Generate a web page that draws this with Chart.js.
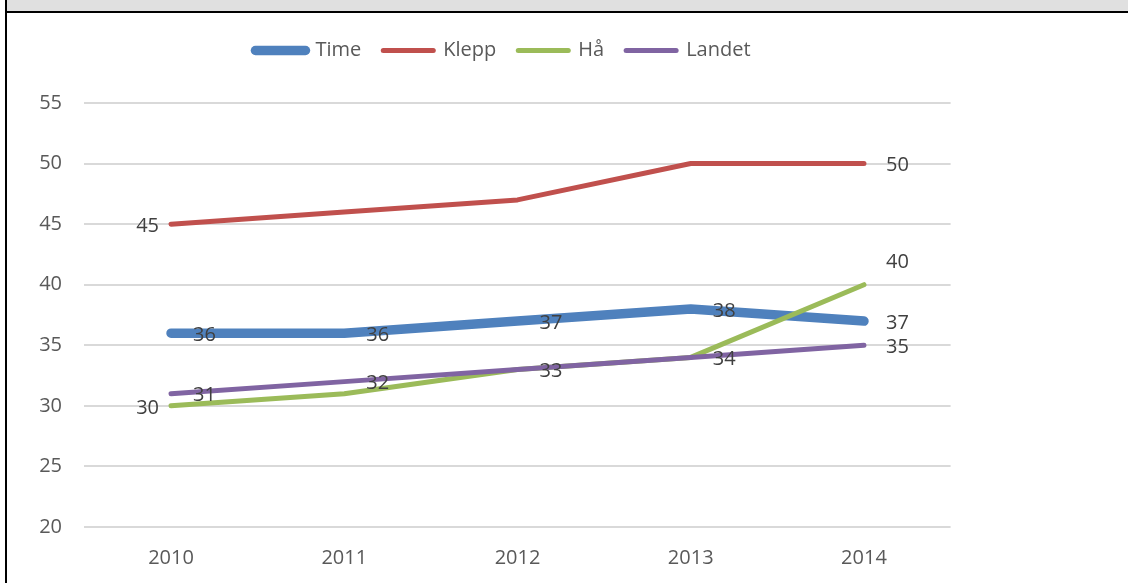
<!DOCTYPE html>
<html>
<head>
<meta charset="utf-8">
<script src="https://cdn.jsdelivr.net/npm/chart.js@4.4.1/dist/chart.umd.min.js"></script>
<style>
  html, body { margin: 0; padding: 0; background: #fff; }
  body { width: 1128px; height: 583px; position: relative; overflow: hidden; }
  #band { position: absolute; left: 7px; top: 0; width: 1121px; height: 11px; background: #E0E0E0; }
  #hline { position: absolute; left: 5px; top: 11px; width: 1123px; height: 2px; background: #000; }
  #vline { position: absolute; left: 5px; top: 0; width: 2px; height: 583px; background: #000; }
  #wrap { position: absolute; left: 7px; top: 13px; width: 1121px; height: 570px; }
</style>
</head>
<body>
<div id="band"></div>
<div id="hline"></div>
<div id="vline"></div>
<div id="wrap"><canvas id="c" width="1121" height="570"></canvas></div>
<script>
// ---- data ----
const categories = ['2010', '2011', '2012', '2013', '2014'];
const seriesNames = ['Time', 'Klepp', 'Hå', 'Landet'];
const timeValues   = [36, 36, 37, 38, 37];
const kleppValues  = [45, 46, 47, 50, 50];
const haValues     = [30, 31, 33, 34, 40];
const landetValues = [31, 32, 33, 34, 35];
const yTicks = [20, 25, 30, 35, 40, 45, 50, 55];

// which points carry a value label, and where
const timeLabels   = ['right', 'right', 'right', 'right', 'right'];
const kleppLabels  = ['left', null, null, null, 'right'];
const haLabels     = ['left', null, null, null, 'aboveRight'];
const landetLabels = ['right', 'right', 'right', 'right', 'right'];

const colors = ['#4F81BD', '#C0504D', '#9BBB59', '#8064A2'];
const widths = [9.5, 5, 5, 5];
const FONT = '"Open Sans", "Noto Sans", sans-serif';
const FSIZE = 20;

const seriesValues = [timeValues, kleppValues, haValues, landetValues];
const seriesLabels = [timeLabels, kleppLabels, haLabels, landetLabels];

const datasets = seriesNames.map((name, i) => ({
  label: name,
  data: seriesValues[i],
  borderColor: colors[i],
  backgroundColor: colors[i],
  borderWidth: widths[i],
  borderCapStyle: 'round',
  borderJoinStyle: 'round',
  pointRadius: 0,
  pointHoverRadius: 0,
  tension: 0,
  fill: false,
  order: seriesNames.length - i,
  valueLabels: seriesLabels[i]
}));

const valueLabelPlugin = {
  id: 'valueLabels',
  beforeLayout(chart) {
    const lg = chart.legend;
    if (lg && !lg._extraGap) {
      const orig = lg.fit;
      lg.fit = function () { orig.call(this); this.height += 32.5; };
      lg._extraGap = true;
    }
  },
  afterDatasetsDraw(chart) {
    const ctx = chart.ctx;
    ctx.save();
    ctx.font = FSIZE + 'px ' + FONT;
    ctx.fillStyle = '#404040';
    ctx.textBaseline = 'middle';
    chart.data.datasets.forEach((ds, di) => {
      const meta = chart.getDatasetMeta(di);
      meta.data.forEach((pt, j) => {
        const pos = ds.valueLabels[j];
        if (!pos) return;
        const txt = String(ds.data[j]);
        let x = pt.x, y = pt.y + 2;
        if (pos === 'right') { ctx.textAlign = 'left'; x += 22; }
        else if (pos === 'left') { ctx.textAlign = 'right'; x -= 12; }
        else if (pos === 'aboveRight') { ctx.textAlign = 'left'; x += 22; y = pt.y - 22; }
        ctx.fillText(txt, x, y);
      });
    });
    ctx.restore();
  }
};

new Chart(document.getElementById('c'), {
  type: 'line',
  data: { labels: categories, datasets: datasets },
  plugins: [valueLabelPlugin],
  options: {
    responsive: false,
    devicePixelRatio: 1,
    animation: false,
    events: [],
    layout: { padding: { left: 0, right: 129, top: 5.5, bottom: 0 } },
    plugins: {
      tooltip: { enabled: false },
      legend: {
        position: 'top',
        align: 'center',
        labels: {
          usePointStyle: true,
          pointStyleWidth: 50,
          padding: 22,
          color: '#595959',
          font: { size: FSIZE, family: FONT },
          generateLabels(chart) {
            return chart.data.datasets.map((ds, i) => ({
              text: ds.label,
              fillStyle: ds.borderColor,
              strokeStyle: ds.borderColor,
              fontColor: '#595959',
              lineWidth: ds.borderWidth,
              lineCap: 'round',
              pointStyle: 'line',
              hidden: false,
              datasetIndex: i
            }));
          }
        }
      }
    },
    scales: {
      x: {
        offset: true,
        grid: { display: false, drawTicks: false },
        border: { display: false },
        ticks: { color: '#595959', font: { size: FSIZE, family: FONT }, padding: 19, maxRotation: 0 },
        afterFit(s) { s.height = 56; }
      },
      y: {
        min: 20,
        max: 55,
        afterBuildTicks(s) { s.ticks = yTicks.map(v => ({ value: v })); },
        grid: { color: '#D9D9D9', lineWidth: 2, drawTicks: false },
        border: { display: false },
        ticks: { color: '#595959', font: { size: FSIZE, family: FONT }, padding: 22.4 },
        afterFit(s) { s.width = 77.4; }
      },
      y2: {
        position: 'right',
        display: true,
        grid: { display: false, drawTicks: false },
        border: { display: false },
        ticks: { display: false },
        afterFit(s) { s.width = 48.4; }
      }
    }
  }
});
</script>
</body>
</html>
